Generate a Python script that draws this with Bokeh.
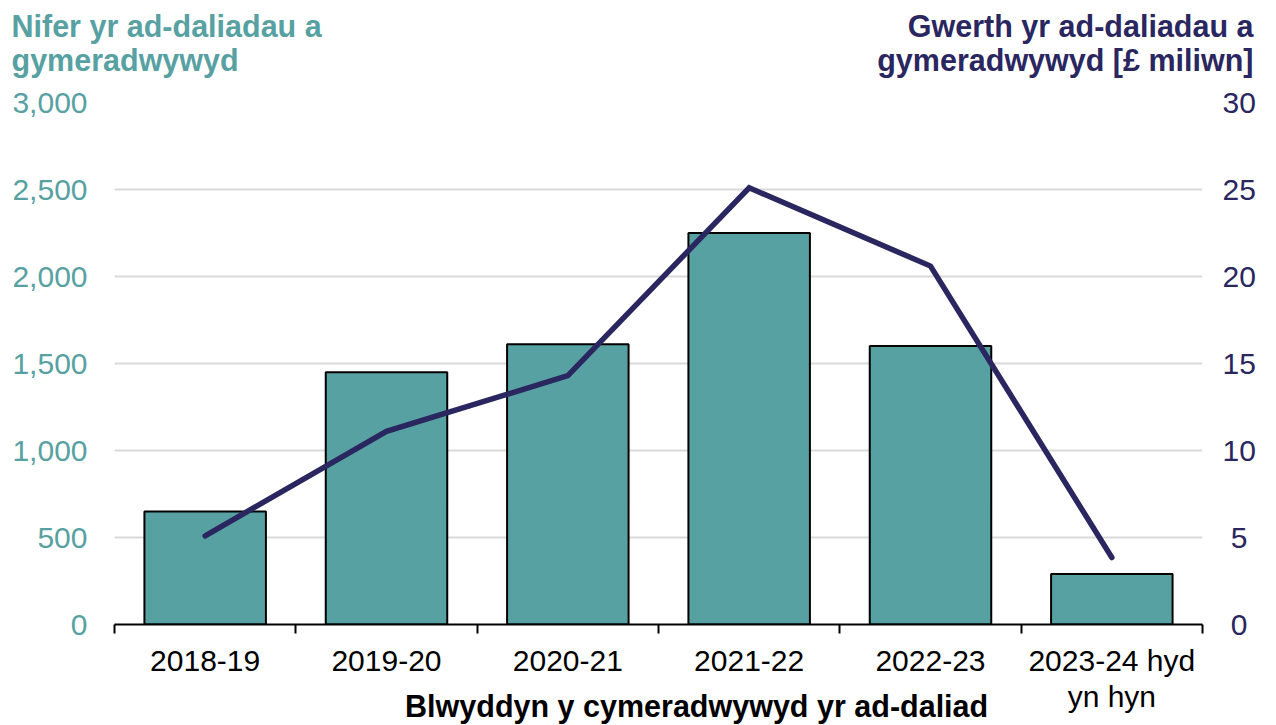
from bokeh.plotting import figure
from bokeh.models import Range1d, LinearAxis, FixedTicker
from bokeh.core.properties import value
from bokeh.embed import file_html
from bokeh.resources import INLINE

# ---- data ----
categories = ["2018-19", "2019-20", "2020-21", "2021-22", "2022-23", "2023-24 hyd\nyn hyn"]
counts = [650, 1450, 1610, 2250, 1600, 290]
values_m = [5.1, 11.1, 14.3, 25.1, 20.6, 3.85]
left_ticks = [0, 500, 1000, 1500, 2000, 2500, 3000]
right_ticks = [0, 5, 10, 15, 20, 25, 30]
left_title = ["Nifer yr ad-daliadau a", "gymeradwywyd"]
right_title = ["Gwerth yr ad-daliadau a", "gymeradwywyd [£ miliwn]"]
x_title = "Blwyddyn y cymeradwywyd yr ad-daliad"

TEAL = "#58A1A3"
NAVY = "#2A2660"
FONT = "Liberation Sans"
FS = "30px"
FSB = "30.5px"
W = 1276
HEAD_H = 80

# ---- header with the two axis headings (separate root, pixel coordinates) ----
head = figure(width=W, height=HEAD_H, x_range=Range1d(0, W), y_range=Range1d(0, HEAD_H),
              output_backend="svg", toolbar_location=None, title_location=None,
              x_axis_location=None, y_axis_location=None,
              min_border_left=0, min_border_right=0, min_border_top=0, min_border_bottom=0,
              outline_line_color=None)
head.xgrid.visible = False
head.ygrid.visible = False
head.text(x=[11, 11], y=[55, 21], text=left_title, text_align="left", text_baseline="alphabetic",
          text_font=value(FONT), text_font_style="bold", text_font_size=value(FSB), text_color=TEAL)
head.text(x=[1253, 1253], y=[55, 21], text=right_title, text_align="right", text_baseline="alphabetic",
          text_font=value(FONT), text_font_style="bold", text_font_size=value(FSB), text_color=NAVY)

# ---- main chart ----
n = len(categories)
xc = [i + 0.5 for i in range(n)]
bounds = list(range(n + 1))

p = figure(width=W, height=645, x_range=Range1d(0, n), y_range=Range1d(0, 3000),
           output_backend="svg", toolbar_location=None, title_location=None,
           min_border_left=114, min_border_right=74, min_border_top=22, min_border_bottom=101,
           outline_line_color=None)
p.extra_y_ranges = {"right": Range1d(0, 30)}

p.xgrid.visible = False
p.ygrid.ticker = FixedTicker(ticks=left_ticks)
p.ygrid.grid_line_color = "#D9D9D9"
p.ygrid.grid_line_width = 2

xa = p.xaxis[0]
xa.ticker = FixedTicker(ticks=xc, minor_ticks=bounds)
xa.major_label_overrides = {x: c for x, c in zip(xc, categories)}
xa.axis_line_color = "black"
xa.axis_line_width = 2
xa.major_tick_out = 0
xa.major_tick_in = 0
xa.major_tick_line_color = None
xa.minor_tick_out = 9
xa.minor_tick_in = 0
xa.minor_tick_line_color = "black"
xa.minor_tick_line_width = 2
xa.major_label_standoff = 10
xa.major_label_text_font = FONT
xa.major_label_text_font_size = FS
xa.major_label_text_line_height = 1.1
xa.major_label_text_color = "black"
xa.axis_label = "\u00a0" * 9 + x_title
xa.axis_label_standoff = -27
xa.axis_label_text_font = FONT
xa.axis_label_text_font_style = "bold"
xa.axis_label_text_font_size = FSB
xa.axis_label_text_color = "black"

ya = p.yaxis[0]
ya.ticker = FixedTicker(ticks=left_ticks)
ya.axis_line_color = None
ya.major_tick_line_color = None
ya.minor_tick_line_color = None
ya.major_tick_out = 0
ya.major_label_standoff = 27
ya.major_label_overrides = {t: f"{t:,}" for t in left_ticks}
ya.major_label_text_font = FONT
ya.major_label_text_font_size = FS
ya.major_label_text_color = TEAL

ra = LinearAxis(y_range_name="right", ticker=FixedTicker(ticks=right_ticks))
ra.axis_line_color = None
ra.major_tick_line_color = None
ra.minor_tick_line_color = None
ra.major_tick_out = 0
ra.major_label_standoff = 20
ra.major_label_overrides = {t: ("\u00a0" + str(t) if t < 10 else str(t)) for t in right_ticks}
ra.major_label_text_font = FONT
ra.major_label_text_font_size = FS
ra.major_label_text_color = NAVY
p.add_layout(ra, "right")

p.vbar(x=xc, top=counts, bottom=0, width=0.67, fill_color=TEAL, line_color="black", line_width=2)
p.line(x=xc, y=values_m, y_range_name="right", line_color=NAVY, line_width=5.5,
       line_cap="round", line_join="miter")

open("out.html", "w").write(file_html([head, p], INLINE))
